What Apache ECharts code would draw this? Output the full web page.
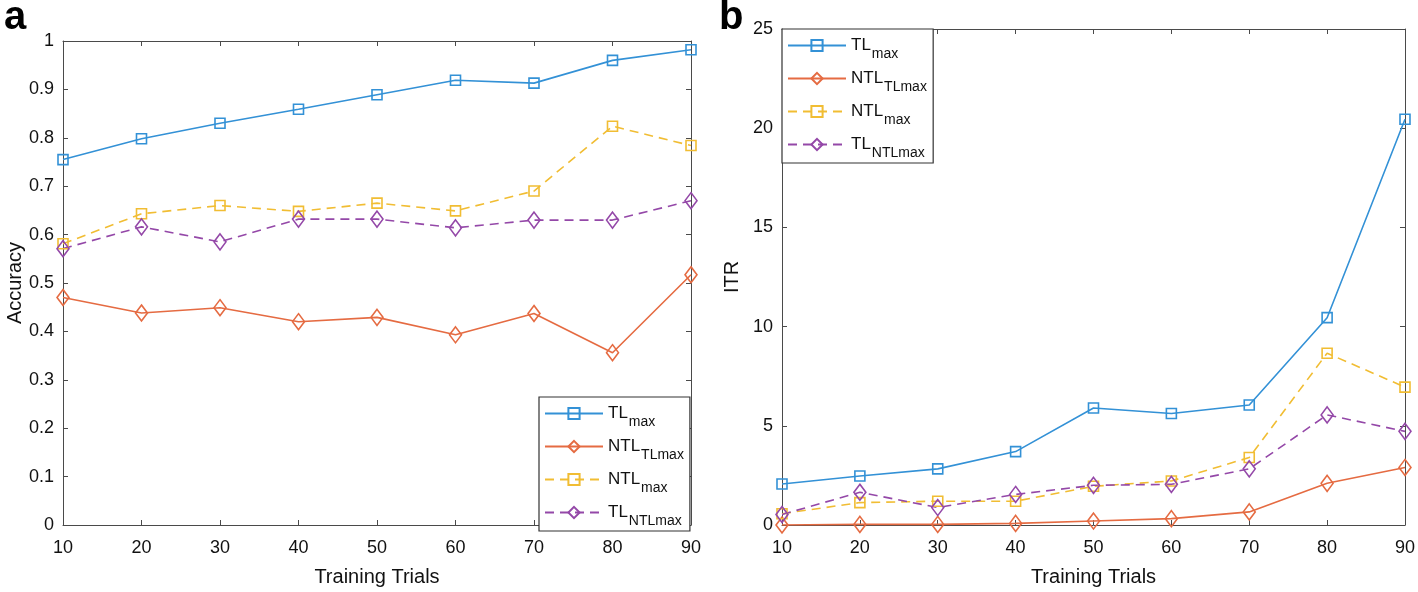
<!DOCTYPE html>
<html><head><meta charset="utf-8">
<script src="https://cdn.jsdelivr.net/npm/echarts@6/dist/echarts.min.js"></script>
<style>html,body{margin:0;padding:0;background:#fff}#c{width:1418px;height:592px}</style>
</head><body><div id="c"></div>
<script>
const trials = [10,20,30,40,50,60,70,80,90];
const seriesNames = ['TL{s|max}','NTL{s|TLmax}','NTL{s|max}','TL{s|NTLmax}'];
const accTLmax = [0.755,0.798,0.830,0.859,0.889,0.919,0.913,0.960,0.982];
const accNTL_TLmax = [0.470,0.438,0.449,0.420,0.429,0.393,0.437,0.356,0.517];
const accNTLmax = [0.581,0.643,0.660,0.648,0.665,0.649,0.690,0.824,0.784];
const accTL_NTLmax = [0.571,0.616,0.585,0.632,0.632,0.614,0.630,0.630,0.670];
const itrTLmax = [2.07,2.47,2.83,3.70,5.90,5.62,6.05,10.45,20.45];
const itrNTL_TLmax = [0.0,0.03,0.03,0.08,0.20,0.32,0.66,2.10,2.90];
const itrNTLmax = [0.57,1.13,1.20,1.20,1.95,2.22,3.40,8.66,6.95];
const itrTL_NTLmax = [0.53,1.65,0.88,1.54,2.00,2.05,2.83,5.55,4.72];
const yTicksLeft = {min:0,max:1,interval:0.1};
const yTicksRight = {min:0,max:25,interval:5};
const xTicks = {min:10,max:90,interval:10};

const colors = ['#3391d6','#e56b42','#f1bd33','#9448a8'];
const symbols = ['rect','diamond','rect','diamond'];
const lineTypes = ['solid','solid',[9,6],[9,6]];
const FONT = 'Liberation Sans, Arial, sans-serif';
const axisCol = '#4a4a4a';

function pairs(ys){ return trials.map((x,i)=>[x,ys[i]]); }

function grids(){
  return [
    {left:63, top:41, width:628, height:487},
    {left:782, top:29, width:624, height:499}
  ];
}
function xAxes(){
  const base = (gi, pos, show, name) => ({
    type:'value', gridIndex:gi, position:pos, min:xTicks.min, max:xTicks.max, interval:xTicks.interval,
    axisLine:{show:true,onZero:false,lineStyle:{color:axisCol,width:1}},
    axisTick:{show:true,inside:true,length:5,lineStyle:{color:axisCol}},
    axisLabel:{show:show,color:'#111',fontSize:18,fontFamily:FONT,margin:14},
    splitLine:{show:false},
    name: name, nameLocation:'middle', nameGap:42,
    nameTextStyle:{color:'#111',fontSize:20,fontFamily:FONT}
  });
  return [base(0,'bottom',true,'Training Trials'), base(0,'top',false,''),
          base(1,'bottom',true,'Training Trials'), base(1,'top',false,'')];
}
function yAxes(){
  const base = (gi, pos, show, t, name, gap) => ({
    type:'value', gridIndex:gi, position:pos, min:t.min, max:t.max, interval:t.interval,
    axisLine:{show:true,onZero:false,lineStyle:{color:axisCol,width:1}},
    axisTick:{show:true,inside:true,length:5,lineStyle:{color:axisCol}},
    axisLabel:{show:show,color:'#111',fontSize:18,fontFamily:FONT,margin:9},
    splitLine:{show:false},
    name: name, nameLocation:'middle', nameGap:gap, nameRotate:90,
    nameTextStyle:{color:'#111',fontSize:20,fontFamily:FONT}
  });
  return [base(0,'left',true,yTicksLeft,'Accuracy',37), base(0,'right',false,yTicksLeft,'',0),
          base(1,'left',true,yTicksRight,'ITR',40), base(1,'right',false,yTicksRight,'',0)];
}
const accData = [accTLmax, accNTL_TLmax, accNTLmax, accTL_NTLmax];
const itrData = [itrTLmax, itrNTL_TLmax, itrNTLmax, itrTL_NTLmax];
const series = [];
function addSeries(dataSets, xi, yi, suffix){
  dataSets.forEach((d,i)=>{
    series.push({
      type:'line', name: seriesNames[i] + suffix, xAxisIndex:xi, yAxisIndex:yi,
      data: pairs(d), symbol: symbols[i],
      symbolSize: symbols[i]==='rect' ? 10 : [12,16],
      lineStyle:{color:colors[i], width:1.6, type:lineTypes[i]},
      itemStyle:{color:'rgba(255,255,255,0)', borderColor:colors[i], borderWidth:1.6},
      emphasis:{disabled:true}, animation:false, z: 3
    });
  });
}
addSeries(accData, 0, 0, '');
addSeries(itrData, 2, 2, '{z| }');

const rich = {
  s:{fontSize:14, fontFamily:FONT, color:'#111', padding:[17,0,0,1]},
  z:{fontSize:1}
};
function legend(names, left, top){
  return {
    data: names, left:left, top:top, orient:'vertical',
    itemWidth:58, itemHeight:14, itemGap:9, padding:[8,6,3,5],
    borderColor:'#333', borderWidth:1.2, backgroundColor:'#fff',
    textStyle:{fontSize:17, fontFamily:FONT, color:'#111', rich:rich},
    selectedMode:false, z:10
  };
}
const option = {
  animation:false,
  grid: grids(),
  xAxis: xAxes(),
  yAxis: yAxes(),
  series: series,
  legend: [
    legend(seriesNames, 539, 397),
    legend(seriesNames.map(n=>n+'{z| }'), 782, 29)
  ],
  graphic:[
    {type:'text', left:4, top:-2, style:{text:'a', fontSize:40, fontWeight:'bold', fontFamily:FONT, fill:'#000'}},
    {type:'text', left:719, top:-2, style:{text:'b', fontSize:40, fontWeight:'bold', fontFamily:FONT, fill:'#000'}}
  ]
};
const chart = echarts.init(document.getElementById('c'), null, {renderer:'canvas'});
chart.setOption(option);
</script></body></html>
